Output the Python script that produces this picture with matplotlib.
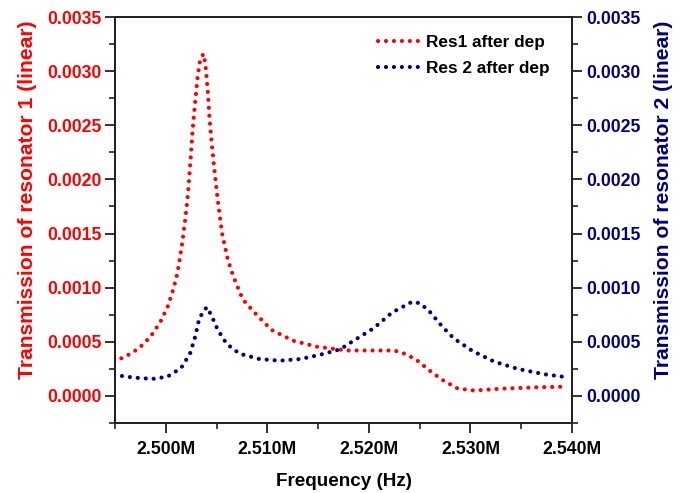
import matplotlib
matplotlib.use("Agg")
import matplotlib.pyplot as plt
from matplotlib.ticker import MultipleLocator, FuncFormatter

plt.rcParams['font.family'] = ['Liberation Sans', 'DejaVu Sans']
plt.rcParams['font.weight'] = 'bold'

# frequency in MHz, transmission (linear)
f_res1 = [2.4949, 2.49614, 2.49736, 2.49851, 2.49944, 2.50016, 2.50072, 2.50115,
          2.50158, 2.50191, 2.50218, 2.50241, 2.50264, 2.50287, 2.50313, 2.50337,
          2.5037, 2.50389, 2.50412, 2.50429, 2.50452, 2.50478, 2.50511, 2.50554,
          2.5061, 2.50666, 2.50759, 2.50874, 2.5104, 2.51254, 2.51485, 2.51782,
          2.51947, 2.52244, 2.52327, 2.52459, 2.5259, 2.52723, 2.52871, 2.53036,
          2.53333, 2.53663, 2.5396]
t_res1 = [0.000317, 0.00037, 0.00044, 0.00055, 0.00068, 0.00082, 0.00098, 0.00114,
          0.00139, 0.00163, 0.00187, 0.00215, 0.00246, 0.00270, 0.00295, 0.00310,
          0.00316, 0.00307, 0.00283, 0.00258, 0.00233, 0.00209, 0.00181, 0.00150,
          0.00126, 0.00110, 0.00089, 0.00077, 0.00061, 0.00051, 0.000455, 0.00042,
          0.00042, 0.00042, 0.00040, 0.00034, 0.00024, 0.000148, 0.00007, 0.00005,
          0.000068, 0.00008, 0.000086]

f_res2 = [2.4949, 2.49686, 2.49867, 2.50016, 2.50149, 2.50238, 2.5029, 2.5033,
          2.50402, 2.50446, 2.50511, 2.506, 2.50726, 2.50924, 2.51122, 2.5132,
          2.51518, 2.51716, 2.51815, 2.52046, 2.52228, 2.52426, 2.52508, 2.52607,
          2.52723, 2.52838, 2.5302, 2.53234, 2.53465, 2.53729, 2.5396]
t_res2 = [0.000194, 0.000169, 0.000157, 0.000178, 0.000256, 0.00039, 0.00055, 0.00072,
          0.00082, 0.00075, 0.00061, 0.00048, 0.00039, 0.00034, 0.000326, 0.00034,
          0.00038, 0.00043, 0.00049, 0.000625, 0.00077, 0.00087, 0.000855, 0.00077,
          0.00064, 0.00053, 0.000415, 0.000317, 0.00025, 0.0002, 0.000172]

red = "#FF0000"
navy = "#000080"
dots = (0, (0.01, 1.9))

fig = plt.figure(figsize=(6.85, 4.93), dpi=100)
ax = fig.add_axes([0.168, 0.142, 0.667, 0.8235])
ax2 = ax.twinx()

l1, = ax.plot([f * 1e6 for f in f_res1], t_res1, color=red, lw=3.0,
              linestyle=dots, dash_capstyle='round', label="Res1 after dep")
l2, = ax2.plot([f * 1e6 for f in f_res2], t_res2, color=navy, lw=3.0,
               linestyle=dots, dash_capstyle='round', label="Res 2 after dep")

ax.set_xlim(2.495e6, 2.540e6)
ax.set_ylim(-0.00025, 0.0035)
ax2.set_ylim(-0.00025, 0.0035)

ax.xaxis.set_major_locator(MultipleLocator(10000))
ax.xaxis.set_minor_locator(MultipleLocator(5000))
ax.xaxis.set_major_formatter(FuncFormatter(lambda x, p: f"{x / 1e6:.3f}M"))
for a in (ax, ax2):
    a.yaxis.set_major_locator(MultipleLocator(0.0005))
    a.yaxis.set_minor_locator(MultipleLocator(0.00025))
    a.yaxis.set_major_formatter(FuncFormatter(lambda y, p: f"{y:.4f}"))
    for s in a.spines.values():
        s.set_linewidth(1.4)
        s.set_color("#222222")

ax.tick_params(axis='both', which='major', direction='out', length=7, width=1.3,
               labelsize=12.7, color="#222222")
ax.tick_params(axis='x', which='major', pad=6)
ax.tick_params(axis='both', which='minor', direction='out', length=4, width=1.2,
               color="#222222")
ax.tick_params(axis='y', labelcolor=red, pad=3)
ax2.tick_params(axis='y', which='major', direction='out', length=7, width=1.3,
                labelsize=12.7, labelcolor=navy, color="#222222", pad=3)
ax2.tick_params(axis='y', which='minor', direction='out', length=4, width=1.2,
                color="#222222")

ax.set_xlabel("Frequency (Hz)", fontsize=13.6, fontweight='bold')
ax.set_ylabel("Transmission of resonator 1 (linear)", fontsize=15.2,
              fontweight='bold', color=red)
ax2.set_ylabel("Transmission of resonator 2 (linear)", fontsize=15.2,
               fontweight='bold', color=navy)
ax.xaxis.set_label_coords(0.5, -0.123)
ax.yaxis.set_label_coords(-0.171, 0.549)
ax2.yaxis.set_label_coords(1.180, 0.549)

ax.legend(handles=[l1, l2], loc='upper left', bbox_to_anchor=(0.542, 0.995),
          frameon=False, handlelength=2.5, handletextpad=0.3,
          labelspacing=0.65, prop={'weight': 'bold', 'size': 12.4})

fig.savefig("out.png", dpi=100)
